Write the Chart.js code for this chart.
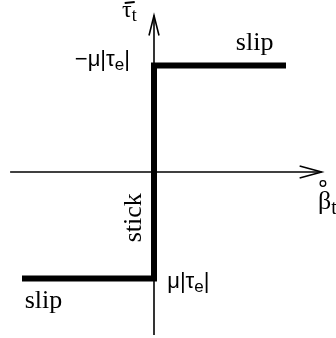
<!DOCTYPE html>
<html>
<head>
<meta charset="utf-8">
<style>
  body { margin: 0; background: #fff; }
  canvas { display: block; }
</style>
</head>
<body>
<canvas id="frictionChart" width="336" height="338"></canvas>

<script src="https://cdn.jsdelivr.net/npm/chart.js"></script>

<script>
  // stick-slip friction law: tangential traction vs slip rate
  const stepX = [-1, 0, 0, 1];
  const stepY = [-1, -1, 1, 1];

  // axes (drawn as thin lines, arrow at the positive end)
  const axisX = [-1.09, 1.27];
  const axisY = [-1.53, 1.47];

  const serif = '"Liberation Serif", "DejaVu Serif", serif';
  const sans = '"Liberation Sans", "DejaVu Sans", sans-serif';

  // rich text labels: pieces are [text, 'sub'|null]
  const labels = [
    { x: -0.242, y: 1.46, parts: [['τ', null], ['t', 'sub']], size: 24, font: serif, bar: true },
    { x: -0.60, y: 1.0, parts: [['−μ|τ', null], ['e', 'sub'], ['|', null]], size: 22, font: sans },
    { x: 0.62, y: 1.15, parts: [['slip', null]], size: 26, font: serif },
    { x: 1.242, y: -0.347, parts: [['β', null], ['t', 'sub']], size: 26, font: serif, ring: true },
    { x: 0.10, y: -1.09, parts: [['μ|τ', null], ['e', 'sub'], ['|', null]], size: 22, font: sans },
    { x: -0.98, y: -1.28, parts: [['slip', null]], size: 26, font: serif }
  ];

  const overlay = {
    id: 'overlay',
    afterDatasetsDraw(chart) {
      const { ctx, scales: { x, y } } = chart;
      ctx.save();
      ctx.strokeStyle = '#000';
      ctx.lineWidth = 1.6;
      // x arrow
      const xt = x.getPixelForValue(axisX[1]), y0 = y.getPixelForValue(0);
      ctx.beginPath();
      ctx.moveTo(xt - 22, y0 - 6); ctx.lineTo(xt, y0); ctx.lineTo(xt - 22, y0 + 6);
      ctx.stroke();
      // y arrow
      const yt = y.getPixelForValue(axisY[1]), x0 = x.getPixelForValue(0);
      ctx.beginPath();
      ctx.moveTo(x0 - 5, yt + 20); ctx.lineTo(x0, yt); ctx.lineTo(x0 + 5, yt + 20);
      ctx.stroke();

      ctx.fillStyle = '#000';
      ctx.textBaseline = 'alphabetic';
      labels.forEach(l => {
        let px = x.getPixelForValue(l.x);
        const py = y.getPixelForValue(l.y);
        const startX = px;
        l.parts.forEach(([t, kind]) => {
          const sz = kind ? Math.round(l.size * 0.75) : l.size;
          ctx.font = sz + 'px ' + l.font;
          const dy = kind === 'sub' ? l.size * 0.2 : 0;
          ctx.fillText(t, px, py + dy);
          px += ctx.measureText(t).width;
        });
        if (l.ring) {
          ctx.lineWidth = 1.3;
          ctx.beginPath();
          ctx.arc(startX + 5, py - l.size * 0.98, 2.8, 0, Math.PI * 2);
          ctx.stroke();
        }
        if (l.bar) {
          ctx.lineWidth = 2;
          ctx.beginPath();
          ctx.moveTo(px - 12, 3); ctx.lineTo(px - 2, 2);
          ctx.stroke();
        }
      });

      // vertical "stick"
      ctx.font = '26px ' + serif;
      ctx.translate(x.getPixelForValue(-0.095), y.getPixelForValue(-0.66));
      ctx.rotate(-Math.PI / 2);
      ctx.fillText('stick', 0, 0);
      ctx.restore();
    }
  };

  new Chart(document.getElementById('frictionChart').getContext('2d'), {
    type: 'scatter',
    data: {
      datasets: [
        {
          data: axisX.map(v => ({ x: v, y: 0 })),
          showLine: true, borderColor: '#000', borderWidth: 1.6, pointRadius: 0
        },
        {
          data: axisY.map(v => ({ x: 0, y: v })),
          showLine: true, borderColor: '#000', borderWidth: 1.6, pointRadius: 0
        },
        {
          data: stepX.map((v, i) => ({ x: v, y: stepY[i] })),
          showLine: true, borderColor: '#000', borderWidth: 6,
          borderCapStyle: 'butt', borderJoinStyle: 'miter', pointRadius: 0
        }
      ]
    },
    options: {
      responsive: false,
      animation: false,
      layout: { padding: 0 },
      plugins: { legend: { display: false }, tooltip: { enabled: false } },
      scales: {
        x: { type: 'linear', display: false, min: -154 / 132, max: 182 / 132 },
        y: { type: 'linear', display: false, min: -166 / 106.5, max: 172 / 106.5 }
      }
    },
    plugins: [overlay]
  });
</script>
</body>
</html>
